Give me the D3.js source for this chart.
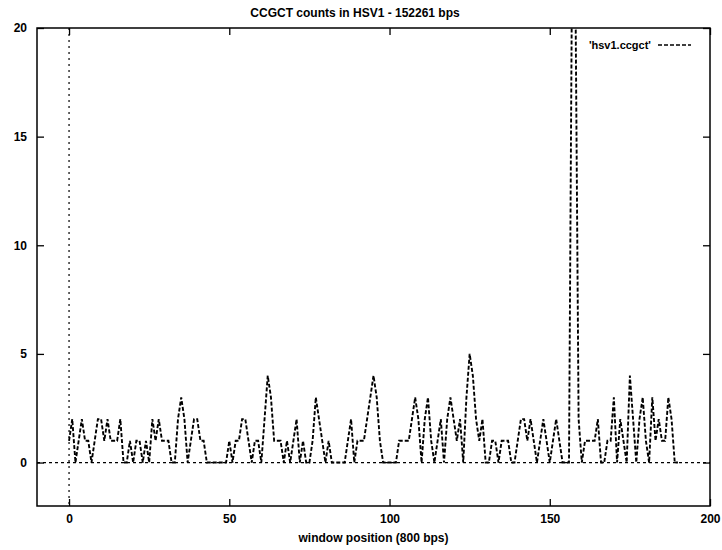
<!DOCTYPE html>
<html>
  <head>
    <meta charset="utf-8">
    <script src="https://cdn.jsdelivr.net/npm/d3@7"></script>
    <style>
        body { margin: 0; background: #fff; }
        text { font-family: "Liberation Sans", Arial, sans-serif; fill: #000; }
    </style>
  </head>

  <body>
    <div id="my_dataviz"></div>
  </body>

  <script>

    // counts per 800 bp window (window 0 .. 190)
    let counts = [
      1, 2, 0, 1, 2, 1, 1, 0, 1, 2,
      2, 1, 2, 1, 1, 1, 2, 0, 0, 1,
      0, 1, 1, 0, 1, 0, 2, 1, 2, 1,
      1, 1, 0, 0, 2, 3, 2, 0, 1, 2,
      2, 1, 1, 0, 0, 0, 0, 0, 0, 0,
      1, 0, 1, 1, 2, 2, 1, 0, 1, 1,
      0, 2, 4, 3, 1, 1, 1, 0, 1, 0,
      1, 2, 0, 1, 0, 0, 1, 3, 2, 1,
      0, 1, 0, 0, 0, 0, 0, 1, 2, 0,
      1, 1, 1, 2, 3, 4, 3, 1, 0, 0,
      0, 0, 0, 1, 1, 1, 1, 2, 3, 2,
      0, 2, 3, 1, 0, 1, 2, 0, 2, 3,
      2, 1, 2, 0, 3, 5, 4, 2, 1, 2,
      0, 0, 1, 1, 0, 1, 1, 1, 0, 0,
      1, 2, 2, 1, 2, 1, 0, 1, 2, 1,
      0, 1, 2, 1, 0, 0, 0, 24, 22, 2,
      0, 1, 1, 1, 1, 2, 0, 0, 1, 1,
      3, 0, 2, 1, 0, 4, 2, 0, 2, 3,
      1, 0, 3, 1, 2, 1, 1, 3, 2, 0,
      0
    ];

    let xTicks = [0, 50, 100, 150, 200];
    let yTicks = [0, 5, 10, 15, 20];
    let xDomain = [-10, 200];
    let yDomain = [-2, 20];

    let title = "CCGCT counts in HSV1 - 152261 bps";
    let xLabel = "window position (800 bps)";
    let keyLabel = "'hsv1.ccgct'";

    let margin = {top: 28, right: 12, bottom: 44, left: 37},
        width = 722 - margin.left - margin.right,
        height = 550 - margin.top - margin.bottom;

    let svg = d3.select("#my_dataviz")
                .append("svg")
                    .attr("width", 722)
                    .attr("height", 550)
                .append("g")
                    .attr("transform", "translate(" + margin.left + "," + margin.top + ")");

    let x = d3.scaleLinear().domain(xDomain).range([0, width]);
    let y = d3.scaleLinear().domain(yDomain).range([height, 0]);

    svg.append("clipPath")
       .attr("id", "plotclip")
       .append("rect")
         .attr("width", width)
         .attr("height", height);

    // axes, ticks pointing inward like gnuplot
    let styleAxis = function(g) {
        g.select(".domain").remove();
        g.selectAll(".tick line").attr("stroke", "#000").attr("stroke-width", 1.3);
        g.selectAll(".tick text").style("font-size", "12px").style("font-weight", "bold");
    };

    svg.append("g")
       .attr("transform", "translate(0," + height + ")")
       .call(d3.axisBottom(x).tickValues(xTicks).tickSize(-7).tickPadding(8))
       .call(styleAxis);

    svg.append("g")
       .call(d3.axisTop(x).tickValues(xTicks).tickSize(-7).tickFormat(""))
       .call(styleAxis);

    svg.append("g")
       .call(d3.axisLeft(y).tickValues(yTicks).tickSize(-7).tickPadding(10))
       .call(styleAxis);

    svg.append("g")
       .attr("transform", "translate(" + width + ",0)")
       .call(d3.axisRight(y).tickValues(yTicks).tickSize(-7).tickFormat(""))
       .call(styleAxis);

    // zero axes (dotted)
    svg.append("line")
       .attr("x1", 0).attr("x2", width)
       .attr("y1", y(0)).attr("y2", y(0))
       .attr("stroke", "#000")
       .attr("stroke-width", 1.2)
       .attr("stroke-dasharray", "3,3");

    svg.append("line")
       .attr("x1", x(0)).attr("x2", x(0))
       .attr("y1", 0).attr("y2", height)
       .attr("stroke", "#000")
       .attr("stroke-width", 1.2)
       .attr("stroke-dasharray", "2,4");

    // data line
    svg.append("path")
       .datum(counts)
       .attr("clip-path", "url(#plotclip)")
       .attr("fill", "none")
       .attr("stroke", "black")
       .attr("stroke-width", 1.9)
       .attr("stroke-dasharray", "4,2")
       .attr("d", d3.line()
         .x(function(d, i) { return x(i) })
         .y(function(d) { return y(d) })
        );

    // border
    svg.append("rect")
       .attr("width", width)
       .attr("height", height)
       .attr("fill", "none")
       .attr("stroke", "#000")
       .attr("stroke-width", 1.5);

    // key
    svg.append("text")
       .attr("x", width - 59)
       .attr("y", 21)
       .attr("text-anchor", "end")
       .style("font-size", "11px")
       .style("font-weight", "bold")
       .text(keyLabel);

    svg.append("line")
       .attr("x1", width - 52).attr("x2", width - 19)
       .attr("y1", 17).attr("y2", 17)
       .attr("stroke", "#000")
       .attr("stroke-width", 1.5)
       .attr("stroke-dasharray", "4,2");

    // titles
    svg.append("text")
       .attr("x", 318)
       .attr("y", -11)
       .attr("text-anchor", "middle")
       .style("font-size", "12px")
       .style("font-weight", "bold")
       .text(title);

    svg.append("text")
       .attr("x", width / 2)
       .attr("y", height + 36)
       .attr("text-anchor", "middle")
       .style("font-size", "12px")
       .style("font-weight", "bold")
       .text(xLabel);

  </script>

</html>
